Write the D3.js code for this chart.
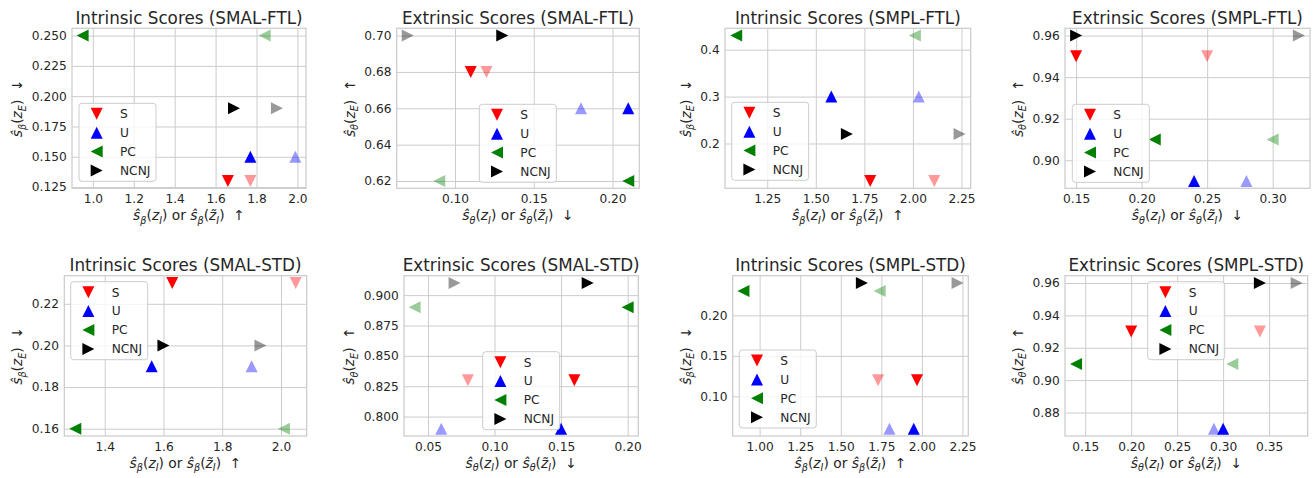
<!DOCTYPE html>
<html><head><meta charset="utf-8">
<script src="https://cdn.jsdelivr.net/npm/d3@7"></script>
<style>
body{margin:0;background:#fff}
svg{display:block}
text{font-family:"DejaVu Sans",sans-serif;fill:#262626}
</style>
</head><body><svg id="c" width="1314" height="478"></svg>
<script>
// ---------------- data ----------------
const seriesNames = ["S", "U", "PC", "NCNJ"];

// Panel 1: Intrinsic Scores (SMAL-FTL)
const p1Title = "Intrinsic Scores (SMAL-FTL)";
const p1Y  = [0.13, 0.15, 0.25, 0.19];
const p1X  = [1.66, 1.77, 0.95, 1.69];
const p1XT = [1.77, 1.99, 1.84, 1.90];
const p1XTicks = [1.0, 1.2, 1.4, 1.6, 1.8, 2.0];
const p1YTicks = [0.125, 0.150, 0.175, 0.200, 0.225, 0.250];

// Panel 2: Extrinsic Scores (SMAL-FTL)
const p2Title = "Extrinsic Scores (SMAL-FTL)";
const p2Y  = [0.68, 0.66, 0.62, 0.70];
const p2X  = [0.11, 0.21, 0.21, 0.13];
const p2XT = [0.12, 0.18, 0.09, 0.07];
const p2XTicks = [0.10, 0.15, 0.20];
const p2YTicks = [0.62, 0.64, 0.66, 0.68, 0.70];

// Panel 3: Intrinsic Scores (SMPL-FTL)
const p3Title = "Intrinsic Scores (SMPL-FTL)";
const p3Y  = [0.12, 0.30, 0.43, 0.22];
const p3X  = [1.78, 1.58, 1.09, 1.66];
const p3XT = [2.11, 2.03, 2.01, 2.24];
const p3XTicks = [1.25, 1.50, 1.75, 2.00, 2.25];
const p3YTicks = [0.2, 0.3, 0.4];

// Panel 4: Extrinsic Scores (SMPL-FTL)
const p4Title = "Extrinsic Scores (SMPL-FTL)";
const p4Y  = [0.95, 0.89, 0.91, 0.96];
const p4X  = [0.15, 0.24, 0.21, 0.15];
const p4XT = [0.25, 0.28, 0.30, 0.32];
const p4XTicks = [0.15, 0.20, 0.25, 0.30];
const p4YTicks = [0.90, 0.92, 0.94, 0.96];

// Panel 5: Intrinsic Scores (SMAL-STD)
const p5Title = "Intrinsic Scores (SMAL-STD)";
const p5Y  = [0.23, 0.19, 0.16, 0.20];
const p5X  = [1.63, 1.56, 1.30, 1.60];
const p5XT = [2.05, 1.90, 2.01, 1.93];
const p5XTicks = [1.4, 1.6, 1.8, 2.0];
const p5YTicks = [0.16, 0.18, 0.20, 0.22];

// Panel 6: Extrinsic Scores (SMAL-STD)
const p6Title = "Extrinsic Scores (SMAL-STD)";
const p6Y  = [0.83, 0.79, 0.89, 0.91];
const p6X  = [0.16, 0.15, 0.20, 0.17];
const p6XT = [0.08, 0.06, 0.04, 0.07];
const p6XTicks = [0.05, 0.10, 0.15, 0.20];
const p6YTicks = [0.800, 0.825, 0.850, 0.875, 0.900];

// Panel 7: Intrinsic Scores (SMPL-STD)
const p7Title = "Intrinsic Scores (SMPL-STD)";
const p7Y  = [0.12, 0.06, 0.23, 0.24];
const p7X  = [1.97, 1.95, 0.90, 1.63];
const p7XT = [1.73, 1.80, 1.74, 2.22];
const p7XTicks = [1.00, 1.25, 1.50, 1.75, 2.00, 2.25];
const p7YTicks = [0.10, 0.15, 0.20];

// Panel 8: Extrinsic Scores (SMPL-STD)
const p8Title = "Extrinsic Scores (SMPL-STD)";
const p8Y  = [0.93, 0.87, 0.91, 0.96];
const p8X  = [0.20, 0.30, 0.14, 0.34];
const p8XT = [0.34, 0.29, 0.31, 0.38];
const p8XTicks = [0.15, 0.20, 0.25, 0.30, 0.35];
const p8YTicks = [0.88, 0.90, 0.92, 0.94, 0.96];

// ---------------- style / layout ----------------
const colors = ["#ff0000", "#0000ff", "#008000", "#000000"];
const shapes = ["down", "up", "left", "right"];
const lightAlpha = 0.4;
const gridColor = "#cccccc";
const tickFont = 12.2, titleFont = 16.8, labelFont = 13.8, legendFont = 12.2;
const mSize = 12;

const intrX = [["ŝ","i"],["β","s"],["(","n"],["z","i"],["I","s"],[")","n"],[" or ","n"],["ŝ","i"],["β","s"],["(","n"],["z\u0303","i"],["I","s"],[")","n"],["  ↑","n"]];
const intrY = [["ŝ","i"],["β","s"],["(","n"],["z","i"],["E","s"],[")","n"],["  ↓","n"]];
const extrX = [["ŝ","i"],["θ","s"],["(","n"],["z","i"],["I","s"],[")","n"],[" or ","n"],["ŝ","i"],["θ","s"],["(","n"],["z\u0303","i"],["I","s"],[")","n"],["  ↓","n"]];
const extrY = [["ŝ","i"],["θ","s"],["(","n"],["z","i"],["E","s"],[")","n"],["  ↑","n"]];

const panels = [
  {title:p1Title, y:p1Y, x:p1X, xt:p1XT, xTicks:p1XTicks, yTicks:p1YTicks, xd:1, yd:3, rect:[72,28.3,306,188.3], leg:[7,75], xl:intrX, yl:intrY},
  {title:p2Title, y:p2Y, x:p2X, xt:p2XT, xTicks:p2XTicks, yTicks:p2YTicks, xd:2, yd:2, rect:[396.7,28.3,639.3,188.3], leg:[82.6,76], xl:extrX, yl:extrY},
  {title:p3Title, y:p3Y, x:p3X, xt:p3XT, xTicks:p3XTicks, yTicks:p3YTicks, xd:2, yd:1, rect:[725,28.3,970.7,188.3], leg:[6.7,74], xl:intrX, yl:intrY},
  {title:p4Title, y:p4Y, x:p4X, xt:p4XT, xTicks:p4XTicks, yTicks:p4YTicks, xd:2, yd:2, rect:[1065,28.3,1310,188.3], leg:[7.3,76], xl:extrX, yl:extrY},
  {title:p5Title, y:p5Y, x:p5X, xt:p5XT, xTicks:p5XTicks, yTicks:p5YTicks, xd:1, yd:2, rect:[64.3,275.7,306.7,436], leg:[6.4,6], xl:intrX, yl:intrY},
  {title:p6Title, y:p6Y, x:p6X, xt:p6XT, xTicks:p6XTicks, yTicks:p6YTicks, xd:2, yd:3, rect:[404,275.7,638.3,436], leg:[78.7,76], xl:extrX, yl:extrY},
  {title:p7Title, y:p7Y, x:p7X, xt:p7XT, xTicks:p7XTicks, yTicks:p7YTicks, xd:2, yd:2, rect:[732.7,275.7,968.3,436], leg:[6.6,74.3], xl:intrX, yl:intrY},
  {title:p8Title, y:p8Y, x:p8X, xt:p8XT, xTicks:p8XTicks, yTicks:p8YTicks, xd:2, yd:2, rect:[1065,275.7,1307.7,436], leg:[82.7,6], xl:extrX, yl:extrY}
];

function triPath(dir, s) {
  const h = s / 2;
  if (dir === "down")  return `M${-h},${-h}L${h},${-h}L0,${h}Z`;
  if (dir === "up")    return `M0,${-h}L${h},${h}L${-h},${h}Z`;
  if (dir === "left")  return `M${-h},0L${h},${-h}L${h},${h}Z`;
  return `M${h},0L${-h},${-h}L${-h},${h}Z`;
}

function padExtent(vals) {
  const [a, b] = d3.extent(vals);
  const m = (b - a) * 0.05;
  return [a - m, b + m];
}

function mathLabel(textSel, parts, fs) {
  let shift = 0;
  const sub = 0.24 * fs;
  parts.forEach(([t, st]) => {
    const isSub = st === "s";
    const target = isSub ? sub : 0;
    const ts = textSel.append("tspan").text(t)
      .attr("font-size", isSub ? fs * 0.7 : fs)
      .attr("font-style", (st === "i" || st === "s") ? "italic" : "normal");
    if (target !== shift) { ts.attr("dy", target - shift); shift = target; }
  });
}

const svg = d3.select("#c");

panels.forEach(p => {
  const [L, T, R, B] = p.rect;
  const w = R - L, h = B - T;
  const g = svg.append("g").attr("transform", `translate(${L},${T})`);
  const allX = p.x.concat(p.xt);
  const x = d3.scaleLinear().domain(padExtent(allX)).range([0, w]);
  const y = d3.scaleLinear().domain(padExtent(p.y)).range([h, 0]);

  // x axis with grid
  const xa = g.append("g").attr("transform", `translate(0,${h})`)
    .call(d3.axisBottom(x).tickValues(p.xTicks).tickFormat(d3.format(`.${p.xd}f`))
      .tickSizeInner(-h).tickSizeOuter(0).tickPadding(6.3));
  xa.select(".domain").remove();
  xa.selectAll("line").attr("stroke", gridColor).attr("stroke-width", 1);
  xa.selectAll("text").attr("font-size", tickFont).attr("font-family", "DejaVu Sans").attr("fill", "#262626");

  const ya = g.append("g")
    .call(d3.axisLeft(y).tickValues(p.yTicks).tickFormat(d3.format(`.${p.yd}f`))
      .tickSizeInner(-w).tickSizeOuter(0).tickPadding(5.3));
  ya.select(".domain").remove();
  ya.selectAll("line").attr("stroke", gridColor).attr("stroke-width", 1);
  ya.selectAll("text").attr("font-size", tickFont).attr("font-family", "DejaVu Sans").attr("fill", "#262626");

  // spines
  g.append("rect").attr("width", w).attr("height", h)
    .attr("fill", "none").attr("stroke", gridColor).attr("stroke-width", 1.25);

  // markers: full (z) and light (z tilde)
  const pts = [];
  seriesNames.forEach((s, i) => {
    pts.push({i, xv: p.x[i], yv: p.y[i], op: 1});
    pts.push({i, xv: p.xt[i], yv: p.y[i], op: lightAlpha});
  });
  g.append("g").selectAll("path").data(pts).join("path")
    .attr("transform", d => `translate(${x(d.xv)},${y(d.yv)})`)
    .attr("d", d => triPath(shapes[d.i], mSize))
    .attr("fill", d => colors[d.i])
    .attr("fill-opacity", d => d.op);

  // title
  g.append("text").attr("x", w / 2).attr("y", -4.3).attr("text-anchor", "middle")
    .attr("font-size", titleFont).text(p.title);

  // x label
  const xl = g.append("text").attr("x", w / 2).attr("y", h + 32)
    .attr("text-anchor", "middle").style("white-space", "pre");
  mathLabel(xl, p.xl, labelFont);

  // y label
  const tb = ya.node().getBBox();
  const yx = tb.x - 9.5;
  const yl = g.append("text").attr("transform", `translate(${yx},${h / 2}) rotate(-90)`)
    .attr("text-anchor", "middle").style("white-space", "pre");
  mathLabel(yl, p.yl, labelFont);

  // legend
  const lg = g.append("g").attr("transform", `translate(${p.leg[0]},${p.leg[1]})`);
  lg.append("rect").attr("width", 77).attr("height", 78).attr("rx", 3)
    .attr("fill", "#ffffff").attr("fill-opacity", 0.8)
    .attr("stroke", gridColor).attr("stroke-width", 1);
  seriesNames.forEach((s, i) => {
    const cy = 10.5 + i * 18.9;
    lg.append("path").attr("transform", `translate(17.7,${cy})`)
      .attr("d", triPath(shapes[i], mSize)).attr("fill", colors[i]);
    lg.append("text").attr("x", 41).attr("y", cy).attr("dy", "0.36em")
      .attr("font-size", legendFont).text(s);
  });
});
</script>
</body></html>
